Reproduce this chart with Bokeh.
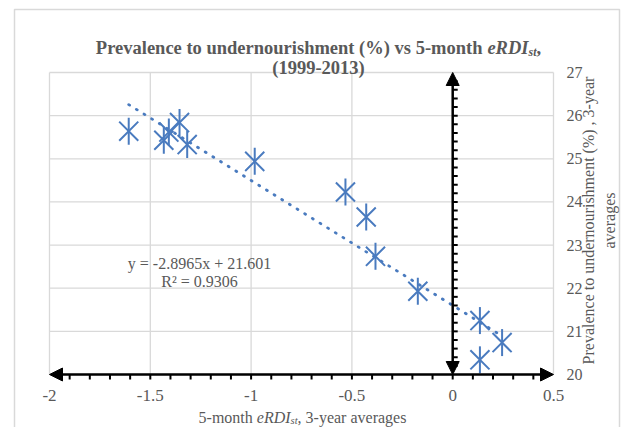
import numpy as np
from bokeh.plotting import figure
from bokeh.models import Range1d, Label, Arrow, NormalHead, ColumnDataSource
from bokeh.core.properties import value
from bokeh.embed import file_html
from bokeh.resources import INLINE

# ---------------- data ----------------
erdi = [-1.607, -1.433, -1.408, -1.355, -1.317, -0.982, -0.532, -0.429, -0.383, -0.173, 0.135, 0.135, 0.245]
prevalence = [25.64, 25.43, 25.62, 25.84, 25.33, 24.94, 24.23, 23.65, 22.74, 21.93, 21.25, 20.34, 20.74]
trend_slope = -2.8965
trend_intercept = 21.601
trend_r2 = 0.9306
x_ticks = [-2, -1.5, -1, -0.5, 0, 0.5]
x_tick_labels = ["-2", "-1.5", "-1", "-0.5", "0", "0.5"]
y_ticks = [20, 21, 22, 23, 24, 25, 26, 27]
y_tick_labels = ["20", "21", "22", "23", "24", "25", "26", "27"]
x_min, x_max = -2.0, 0.5
y_min, y_max = 20, 27

BLUE = "#4a7bbf"
GREY = "#595959"
GRID = "#d9d9d9"
FONT = "Liberation Serif"

# ---------------- layout (canvas pixels) ----------------
W, H = 621, 427
AREA_L, AREA_R, AREA_T, AREA_B = 49, 553, 72, 374
BORDER_L, BORDER_R, BORDER_T = 14, 619, 9
sx = (AREA_R - AREA_L) / (x_max - x_min)   # px per x unit
sy = (AREA_B - AREA_T) / (y_max - y_min)   # px per y unit
xr = Range1d(x_min - AREA_L / sx, x_max + (W - AREA_R) / sx)
yr = Range1d(y_min - (H - AREA_B) / sy, y_max + AREA_T / sy)

# Times-compatible advance widths (1/1000 em) used to lay out mixed-style text
REG = {' ': 250, ',': 250, '-': 333, '.': 250, '(': 333, ')': 333, '%': 833, '=': 564, '+': 564,
       'a': 444, 'c': 444, 'd': 500, 'e': 444, 'g': 500, 'h': 500, 'i': 278, 'l': 278, 'm': 778,
       'n': 500, 'o': 500, 'r': 333, 's': 389, 't': 278, 'u': 500, 'v': 500, 'y': 500, 'x': 500,
       'P': 556, 'R': 667, 'D': 722, 'I': 333}
BOLD = {' ': 250, ',': 250, '-': 333, '(': 333, ')': 333, '%': 1000, 'a': 500, 'c': 444, 'd': 556,
        'e': 444, 'h': 556, 'i': 278, 'l': 278, 'm': 833, 'n': 556, 'o': 500, 'r': 444, 's': 389,
        't': 333, 'u': 556, 'v': 500, 'P': 611}
ITAL = {'e': 444, 'R': 611, 'D': 722, 'I': 333, 's': 389, 't': 278}
BOLDITAL = {'e': 444, 'R': 667, 'D': 722, 'I': 389, 's': 389, 't': 278}
TABLES = {"normal": REG, "bold": BOLD, "italic": ITAL, "bold italic": BOLDITAL}


def text_width(s, style, size):
    tab = TABLES[style]
    return sum(tab.get(c, 500) for c in s) * size / 1000.0


p = figure(width=W, height=H, x_range=xr, y_range=yr, output_backend="svg", toolbar_location=None,
           min_border=0, min_border_left=0, min_border_right=0, min_border_top=0, min_border_bottom=0)
p.axis.visible = False
p.grid.visible = False
p.outline_line_color = None
p.background_fill_color = "white"
p.border_fill_color = "white"

# chart-area border (left, top, right edges; bottom lies below the window)
bx0 = xr.start + BORDER_L / sx
bx1 = xr.start + BORDER_R / sx
by_top = yr.end - BORDER_T / sy
by_bot = yr.start - 1
p.line(x=[bx0, bx0, bx1, bx1], y=[by_bot, by_top, by_top, by_bot], line_color=GRID, line_width=1.5)

# gridlines (plot-area border coincides with outer gridlines)
p.segment(x0=x_ticks, y0=[y_min] * len(x_ticks), x1=x_ticks, y1=[y_max] * len(x_ticks),
          line_color=GRID, line_width=1.3)
p.segment(x0=[x_min] * len(y_ticks), y0=y_ticks, x1=[x_max] * len(y_ticks), y1=y_ticks,
          line_color=GRID, line_width=1.3)

# tick labels
p.text(x=x_ticks, y=[y_min] * len(x_ticks), text=x_tick_labels, y_offset=21,
       text_font=value(FONT), text_font_size="17px", text_color=GREY,
       text_align="center", text_baseline="middle")
p.text(x=[x_max] * len(y_ticks), y=y_ticks, text=y_tick_labels, x_offset=13,
       text_font=value(FONT), text_font_size="16px", text_color=GREY,
       text_align="left", text_baseline="middle")

# small ticks on the two arrow axes
xt = np.round(np.arange(x_min + 0.1, x_max - 0.05, 0.1), 2)
p.segment(x0=xt, y0=[y_min] * len(xt), x1=xt, y1=[y_min - 5 / sy] * len(xt),
          line_color="black", line_width=2)
yt = np.round(np.arange(y_min + 0.2, y_max - 0.1, 0.2), 2)
p.segment(x0=[0] * len(yt), y0=yt, x1=[5 / sx] * len(yt), y1=yt, line_color="black", line_width=2)

head = dict(size=13, fill_color="black", line_color="black")
p.add_layout(Arrow(x_start=x_min, y_start=y_min, x_end=x_max, y_end=y_min, line_width=2.5,
                   line_color="black", start=NormalHead(**head), end=NormalHead(**head)))
p.add_layout(Arrow(x_start=0, y_start=y_min, x_end=0, y_end=y_max, line_width=2.5, line_color="black",
                   start=NormalHead(**head), end=NormalHead(**head)))

# trendline
tx = np.array([min(erdi), max(erdi)])
ty = trend_slope * tx + trend_intercept
p.line(tx, ty, line_color=BLUE, line_width=2.8, line_dash="1 8", line_cap="round")

# points (Excel "star": an x with a vertical stroke)
src = ColumnDataSource(dict(x=erdi, y=prevalence))
p.scatter("x", "y", source=src, marker="x", size=27, line_color=BLUE, line_width=2)
p.scatter("x", "y", source=src, marker="dash", angle=np.pi / 2, size=27, line_color=BLUE, line_width=2)

# equation
lab = dict(x_units="screen", y_units="screen", text_font=FONT, text_font_size="16px",
           text_color=GREY, text_align="center", text_baseline="middle")
p.add_layout(Label(x=199, y=H - 262.7, text="y = %.4fx + %.3f" % (trend_slope, trend_intercept), **lab))
p.add_layout(Label(x=199, y=H - 281, text="R\u00b2 = %.4f" % trend_r2, **lab))


def place(pieces, cx, base_y):
    total = sum(text_width(t, st, sz) for t, st, sz, dy in pieces)
    x = cx - total / 2.0
    for t, st, sz, dy in pieces:
        p.add_layout(Label(x=x, y=base_y + dy, text=t, x_units="screen", y_units="screen",
                           text_font=FONT, text_font_size="%gpx" % sz, text_font_style=st,
                           text_color=GREY, text_align="left", text_baseline="alphabetic"))
        x += text_width(t, st, sz)


# title
place([("Prevalence to undernourishment (%) vs 5-month ", "bold", 18.5, 0),
       ("eRDI", "bold italic", 18.5, 0),
       ("st", "bold italic", 12, -4),
       (",", "bold", 18.5, 0)], 318, H - 47)
place([("(1999-2013)", "bold", 18.5, 0)], 318, H - 67.5)

# x-axis title
place([("5-month ", "normal", 16, 0),
       ("eRDI", "italic", 16, 0),
       ("st", "italic", 10.5, -3),
       (", 3-year averages", "normal", 16, 0)], 302, H - 417)

# right axis title (two lines, rotated)
rl = dict(x_units="screen", y_units="screen", text_font=FONT, text_font_size="16px",
          text_color=GREY, text_align="center", text_baseline="middle", angle=np.pi / 2)
p.add_layout(Label(x=588, y=H - 220, text="Prevalence to undernourishment (%) , 3-year", **rl))
p.add_layout(Label(x=609, y=H - 220, text="averages", **rl))

open("out.html", "w").write(file_html(p, INLINE))
